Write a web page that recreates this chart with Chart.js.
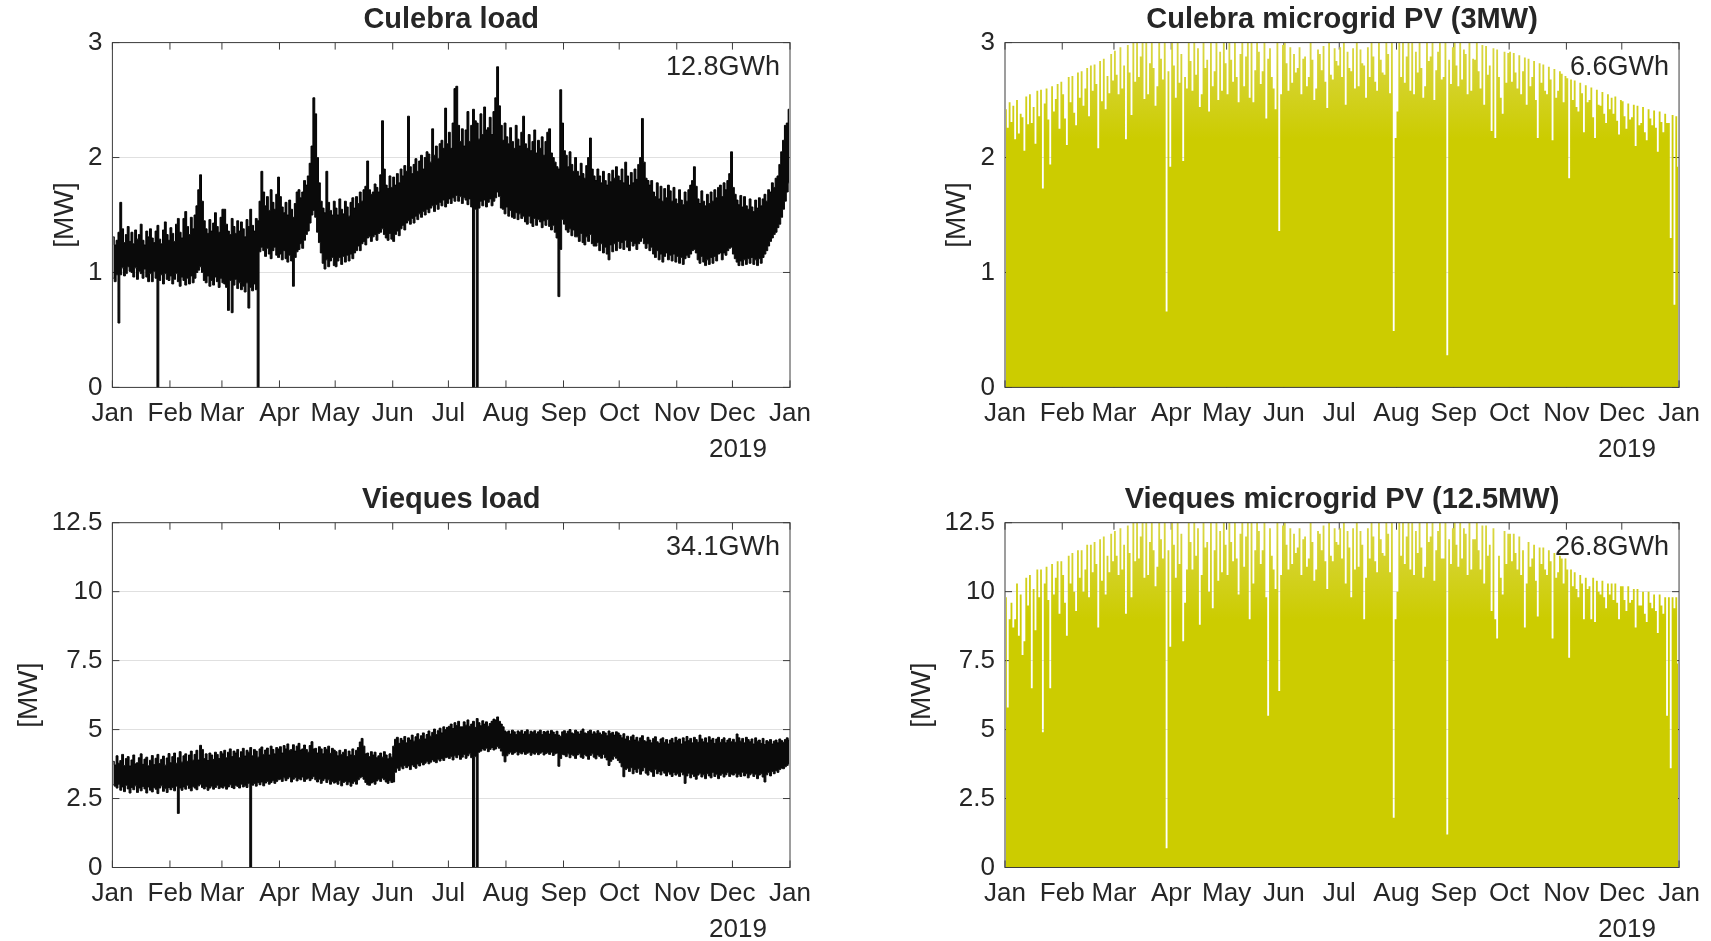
<!DOCTYPE html>
<html>
<head>
<meta charset="utf-8">
<script src="https://cdn.jsdelivr.net/npm/chart.js@4.4.1/dist/chart.umd.min.js"></script>
<style>
  html, body { margin: 0; padding: 0; background: #fff; }
  body { width: 1711px; height: 941px; position: relative; overflow: hidden; }
  canvas { position: absolute; }
</style>
</head>
<body>
<canvas id="load-cul" width="855" height="470" style="left:0;top:0"></canvas>
<canvas id="pv-cul" width="856" height="470" style="left:855px;top:0"></canvas>
<canvas id="load-viq" width="855" height="471" style="left:0;top:470px"></canvas>
<canvas id="pv-viq" width="856" height="471" style="left:855px;top:470px"></canvas>
<script>
// x axis: day of year, ticks at the first day of each month
const MONTH_STARTS = [0, 31, 59, 90, 120, 151, 181, 212, 243, 273, 304, 334, 365];
const MONTH_LABELS = ['Jan', 'Feb', 'Mar', 'Apr', 'May', 'Jun', 'Jul', 'Aug', 'Sep', 'Oct', 'Nov', 'Dec', 'Jan'];
const YEAR_LABEL = '2019';
const Y_TICKS_CUL = [0, 1, 2, 3];
const Y_TICKS_VIQ = [0, 2.5, 5, 7.5, 10, 12.5];

// Culebra load, daily max / min [MW] (10 days per row)
const CUL_LOAD_MAX = [
  1.31,1.24,1.28,1.35,1.61,1.38,1.26,1.33,1.40,1.27,
  1.35,1.25,1.37,1.29,1.33,1.42,1.28,1.24,1.36,1.31,
  1.38,1.30,1.26,1.36,1.41,1.29,1.25,1.37,1.44,1.33,
  1.28,1.39,1.34,1.27,1.42,1.47,1.35,1.30,1.47,1.53,
  1.40,1.33,1.48,1.38,1.50,1.58,1.72,1.85,1.62,1.45,
  1.38,1.34,1.46,1.36,1.43,1.52,1.40,1.35,1.48,1.55,
  1.55,1.42,1.36,1.33,1.47,1.40,1.34,1.45,1.36,1.44,
  1.38,1.31,1.46,1.40,1.55,1.41,1.36,1.47,1.45,1.62,
  1.88,1.70,1.58,1.66,1.54,1.72,1.61,1.55,1.68,1.83,
  1.66,1.57,1.52,1.61,1.50,1.63,1.55,1.48,1.60,1.70,
  1.72,1.65,1.70,1.80,1.76,1.84,1.95,2.10,2.52,2.38,
  2.00,1.78,1.62,1.56,1.52,1.88,1.61,1.54,1.50,1.62,
  1.56,1.50,1.64,1.55,1.51,1.62,1.57,1.49,1.61,1.65,
  1.56,1.66,1.60,1.70,1.62,1.72,1.75,1.97,1.72,1.68,
  1.70,1.77,1.74,1.70,1.85,2.32,1.90,1.76,1.73,1.84,
  1.74,1.83,1.76,1.86,1.78,1.90,1.84,1.93,1.88,2.36,
  1.92,1.86,1.94,1.99,1.88,1.97,2.02,1.90,2.00,2.05,
  2.03,1.96,2.25,2.02,2.10,1.99,2.12,2.15,2.08,2.43,
  2.12,2.22,2.08,2.30,2.60,2.62,2.28,2.14,2.25,2.10,
  2.24,2.40,2.14,2.28,2.42,2.32,2.30,2.16,2.38,2.20,
  2.44,2.24,2.26,2.35,2.20,2.40,2.52,2.79,2.45,2.28,
  2.15,2.30,2.18,2.12,2.26,2.14,2.08,2.28,2.16,2.10,
  2.22,2.36,2.12,2.08,2.20,2.06,2.14,2.24,2.04,2.15,
  2.08,2.18,2.02,2.14,2.22,2.25,2.04,2.00,1.96,1.92,
  1.90,2.59,2.30,2.06,2.02,1.92,2.05,1.94,1.88,2.00,
  1.88,1.84,1.95,1.86,1.82,1.93,2.00,2.17,1.90,1.84,
  1.80,1.90,1.84,1.78,1.88,1.80,1.76,1.86,1.79,1.89,
  1.82,1.92,1.84,1.80,1.90,1.78,1.96,1.84,1.76,1.87,
  1.78,1.90,1.81,1.94,2.00,2.34,1.96,1.82,1.80,1.76,
  1.80,1.70,1.66,1.78,1.64,1.75,1.62,1.73,1.65,1.76,
  1.71,1.62,1.74,1.64,1.60,1.72,1.63,1.59,1.70,1.62,
  1.72,1.76,1.80,1.92,1.75,1.64,1.60,1.71,1.62,1.58,
  1.68,1.60,1.70,1.62,1.72,1.65,1.74,1.76,1.66,1.78,
  1.72,1.80,1.86,2.05,1.74,1.68,1.63,1.59,1.67,1.57,
  1.66,1.58,1.55,1.64,1.57,1.53,1.63,1.56,1.65,1.58,
  1.64,1.68,1.62,1.72,1.70,1.78,1.74,1.82,1.84,1.94,
  2.05,2.15,2.28,2.30,2.42
];
const CUL_LOAD_MIN = [
  0.95,0.92,0.98,0.56,0.98,1.04,0.97,0.99,1.05,1.01,
  1.00,0.96,1.04,0.94,1.01,0.99,0.95,1.03,0.96,0.92,
  0.99,0.92,1.01,0.95,0.00,0.93,0.98,0.90,0.99,0.94,
  0.93,0.97,0.90,0.94,0.99,0.92,0.88,0.96,0.93,0.89,
  0.95,0.90,0.97,0.91,0.95,1.00,1.02,1.05,1.00,0.93,
  0.91,0.97,0.88,0.93,0.89,0.96,0.92,0.87,0.95,0.91,
  0.90,0.87,0.67,0.93,0.65,0.89,0.94,0.86,0.91,0.85,
  0.88,0.83,0.91,0.69,0.87,0.84,0.90,0.85,0.00,1.18,
  1.22,1.19,1.14,1.21,1.16,1.12,1.19,1.22,1.15,1.13,
  1.16,1.11,1.19,1.12,1.09,1.15,1.10,0.88,1.13,1.18,
  1.20,1.25,1.21,1.28,1.33,1.36,1.43,1.50,1.54,1.48,
  1.35,1.26,1.17,1.08,1.03,1.11,1.05,1.10,1.13,1.06,
  1.05,1.10,1.13,1.07,1.14,1.09,1.15,1.10,1.16,1.12,
  1.17,1.19,1.23,1.19,1.25,1.27,1.24,1.30,1.31,1.27,
  1.31,1.33,1.28,1.34,1.35,1.38,1.33,1.30,1.28,1.34,
  1.29,1.27,1.33,1.36,1.32,1.38,1.41,1.37,1.43,1.45,
  1.42,1.47,1.43,1.49,1.46,1.51,1.48,1.53,1.50,1.55,
  1.52,1.56,1.58,1.53,1.59,1.55,1.61,1.58,1.63,1.57,
  1.60,1.64,1.60,1.65,1.62,1.67,1.62,1.66,1.60,1.65,
  1.63,1.59,1.64,1.57,0.00,1.55,0.00,1.56,1.62,1.58,
  1.63,1.57,1.61,1.64,1.58,1.62,1.65,1.70,1.66,1.56,
  1.55,1.51,1.57,1.49,1.54,1.48,1.47,1.52,1.46,1.51,
  1.47,1.49,1.44,1.42,1.49,1.43,1.40,1.47,1.41,1.46,
  1.44,1.39,1.45,1.41,1.46,1.40,1.37,1.41,1.35,1.30,
  0.79,1.20,1.46,1.42,1.37,1.35,1.38,1.32,1.37,1.31,
  1.31,1.27,1.34,1.26,1.24,1.31,1.27,1.33,1.25,1.23,
  1.23,1.26,1.19,1.25,1.17,1.22,1.16,1.11,1.24,1.18,
  1.25,1.19,1.27,1.21,1.26,1.20,1.28,1.22,1.19,1.27,
  1.23,1.25,1.20,1.25,1.27,1.30,1.25,1.21,1.25,1.19,
  1.22,1.16,1.13,1.19,1.11,1.16,1.09,1.14,1.17,1.11,
  1.15,1.10,1.16,1.09,1.14,1.08,1.13,1.07,1.12,1.15,
  1.13,1.16,1.19,1.20,1.17,1.11,1.08,1.14,1.09,1.06,
  1.11,1.07,1.13,1.08,1.14,1.10,1.16,1.17,1.11,1.17,
  1.15,1.19,1.21,1.22,1.16,1.12,1.09,1.06,1.10,1.06,
  1.11,1.07,1.12,1.08,1.13,1.07,1.11,1.06,1.12,1.08,
  1.13,1.16,1.19,1.23,1.27,1.30,1.33,1.35,1.39,1.42,
  1.48,1.55,1.62,1.70,1.78
];

// Culebra PV, daily peak [MW] (one row per month)
const CUL_PV_PEAK = [
  2.42,2.26,2.48,2.31,2.45,2.16,2.50,2.21,2.38,2.35,2.06,2.53,2.29,2.55,2.30,2.44,2.12,2.58,2.36,2.59,1.73,2.47,2.60,2.33,1.94,2.62,2.40,2.51,2.64,2.25,2.66,
  2.55,2.34,2.11,2.70,2.48,2.71,2.39,2.28,2.74,2.52,2.75,2.45,2.60,2.78,2.36,2.80,2.58,2.81,2.64,2.08,2.84,2.49,2.86,2.42,2.71,2.56,2.90,2.67,
  2.93,2.72,2.55,2.96,2.60,2.80,2.16,2.98,2.74,2.37,3.00,2.66,3.00,2.70,2.88,3.00,2.51,3.00,2.55,2.82,3.00,2.78,2.45,2.62,3.00,2.86,2.68,3.00,0.66,2.75,1.92,
  3.00,2.80,2.52,3.00,2.65,2.90,1.97,2.70,2.60,3.00,2.84,2.58,3.00,2.72,2.95,2.44,2.55,3.00,2.78,2.85,2.40,3.00,2.62,2.75,3.00,2.50,2.92,2.58,3.00,2.82,
  2.55,3.00,2.85,2.66,3.00,2.70,2.48,2.90,3.00,2.62,2.88,3.00,2.52,3.00,2.48,2.76,3.00,2.92,2.64,2.75,3.00,2.34,2.86,2.95,2.70,2.60,2.42,3.00,1.36,2.55,2.98,
  3.00,2.82,2.58,2.96,2.65,2.90,2.74,2.78,2.96,2.55,2.86,2.88,2.62,2.70,3.00,2.85,2.50,2.60,2.94,2.90,2.76,2.97,2.66,2.43,3.00,2.72,2.68,2.95,2.84,2.80,
  2.96,2.70,3.00,2.46,2.92,2.78,2.75,2.95,2.60,3.00,2.62,2.94,2.82,2.80,2.52,2.96,2.70,3.00,2.88,2.66,2.58,3.00,2.85,2.74,2.72,3.00,2.90,2.56,3.00,0.49,2.17,
  2.40,3.00,2.70,3.00,2.65,2.88,3.00,2.58,3.00,2.55,2.92,2.74,3.00,2.78,2.52,2.62,3.00,2.84,2.88,3.00,2.50,2.76,2.92,3.00,2.68,2.70,3.00,0.28,2.85,2.64,2.96,
  3.00,2.80,2.62,3.00,2.68,2.94,2.90,2.55,3.00,2.58,2.86,2.85,3.00,2.75,2.60,2.98,2.46,2.97,2.72,2.80,2.23,2.95,2.17,2.94,2.70,2.52,2.38,2.92,2.65,2.91,
  2.92,2.66,2.91,2.74,2.60,2.89,2.55,2.75,2.87,2.46,2.86,2.62,2.70,2.84,2.50,2.17,2.82,2.65,2.81,2.58,2.55,2.79,2.68,2.15,2.77,2.52,2.58,2.75,2.73,2.48,2.71,
  2.69,1.82,2.68,2.50,2.67,2.44,2.40,2.65,2.56,2.22,2.63,2.48,2.50,2.61,2.35,2.17,2.59,2.46,2.45,2.57,2.38,2.30,2.55,2.42,2.52,2.38,2.53,2.32,2.20,2.50,
  2.49,2.36,2.25,2.47,2.33,2.35,2.46,2.10,2.45,2.28,2.30,2.44,2.22,2.15,2.42,2.34,2.28,2.41,2.26,2.05,2.40,2.31,2.22,2.38,2.30,2.30,1.30,2.37,0.72,2.36,1.92
];

// Vieques load, daily max / min [MW] (one row per month)
const VIQ_LOAD_MAX = [
  3.85,3.72,4.05,3.78,3.88,4.10,3.70,3.95,4.02,3.68,3.90,4.08,3.76,3.80,3.98,4.12,3.74,3.93,4.00,3.69,3.89,4.06,3.73,3.96,4.10,3.77,3.92,4.04,3.71,3.97,4.13,
  3.80,4.02,4.15,3.78,3.98,4.20,3.82,4.05,4.12,3.85,4.08,4.22,3.89,4.10,4.25,3.90,4.43,4.28,3.95,4.12,3.88,4.15,4.08,3.92,4.18,4.10,3.95,4.20,
  4.12,4.25,3.98,4.18,4.30,4.02,4.22,4.15,4.28,3.98,4.20,4.32,4.04,4.25,4.18,4.35,4.05,4.28,4.22,4.00,4.30,4.37,4.10,4.26,4.33,4.08,4.40,4.28,4.12,4.35,4.30,
  4.38,4.15,4.42,4.30,4.48,4.25,4.28,4.45,4.22,4.40,4.50,4.26,4.30,4.44,4.28,4.18,4.42,4.56,4.30,4.32,4.15,4.38,4.30,4.12,4.35,4.28,4.40,4.14,4.32,4.26,
  4.20,4.05,4.25,4.10,4.18,4.28,4.02,4.22,4.08,4.30,4.06,4.25,4.35,4.55,4.68,4.40,4.12,4.15,4.02,4.20,4.08,4.18,3.98,4.05,4.15,4.00,4.20,4.08,3.94,4.12,4.00,
  4.40,4.65,4.72,4.50,4.68,4.60,4.75,4.52,4.70,4.62,4.80,4.58,4.74,4.85,4.65,4.78,4.88,4.66,4.82,4.95,4.76,4.90,5.02,4.82,4.96,5.05,4.88,5.10,5.00,5.08,
  5.12,5.20,5.04,5.25,5.15,5.30,5.10,5.10,5.28,5.16,5.35,5.12,5.20,5.30,5.08,5.40,5.25,5.14,5.32,5.20,5.28,5.12,5.22,5.30,5.38,5.35,5.46,5.30,5.20,5.10,4.95,
  4.90,4.95,4.84,4.98,4.92,4.82,4.95,4.90,4.97,4.84,4.93,4.99,4.83,4.94,4.90,4.96,4.85,4.92,4.98,4.82,4.93,4.90,4.95,4.84,4.97,4.91,4.82,4.94,4.80,4.75,4.92,
  4.96,4.86,4.94,5.00,4.88,4.85,4.98,4.92,4.84,4.95,5.02,4.88,4.86,4.94,4.98,4.84,4.92,4.85,4.96,4.88,4.82,4.93,4.88,4.78,4.95,4.86,4.90,4.80,4.92,4.88,
  4.80,4.70,4.85,4.66,4.76,4.60,4.74,4.80,4.62,4.72,4.58,4.70,4.78,4.60,4.56,4.72,4.62,4.52,4.68,4.74,4.56,4.50,4.66,4.70,4.54,4.64,4.48,4.62,4.68,4.52,4.72,
  4.60,4.66,4.48,4.70,4.56,4.75,4.60,4.68,4.52,4.72,4.64,4.54,4.80,4.66,4.56,4.70,4.52,4.74,4.62,4.68,4.50,4.66,4.72,4.54,4.64,4.70,4.52,4.62,4.68,4.56,
  4.65,4.54,4.84,4.70,4.58,4.68,4.52,4.72,4.64,4.56,4.66,4.48,4.70,4.58,4.62,4.50,4.68,4.46,4.60,4.56,4.64,4.48,4.58,4.62,4.52,4.66,4.60,4.54,4.64,4.70,4.62
];
const VIQ_LOAD_MIN = [
  3.00,2.95,2.88,3.02,2.80,2.92,2.75,2.98,2.85,2.70,2.90,2.82,2.96,2.72,2.88,2.78,2.94,2.85,2.70,2.92,2.80,2.74,2.90,2.84,2.68,2.88,2.96,2.76,2.86,2.72,2.90,
  2.82,2.90,2.78,2.95,1.96,2.88,2.80,2.92,2.84,2.98,2.86,2.78,2.94,2.88,2.82,2.96,3.02,2.90,2.85,2.93,2.80,2.88,2.95,2.84,2.90,2.98,2.86,2.92,
  2.88,2.95,2.84,2.92,3.00,2.90,2.86,2.98,2.94,2.88,3.02,2.92,2.96,2.90,3.05,0.00,2.98,3.04,2.95,3.08,3.00,3.10,2.96,3.06,3.12,3.02,3.08,3.15,3.05,3.12,3.18,
  3.20,3.12,3.25,3.15,3.22,3.28,3.10,3.20,3.26,3.14,3.22,3.18,3.28,3.12,3.20,3.24,3.15,3.22,3.30,3.18,3.10,3.20,3.05,3.15,3.22,3.08,3.18,3.02,3.12,3.06,
  3.10,3.02,3.15,2.96,3.08,3.12,3.00,3.10,2.95,3.05,3.12,3.02,3.18,3.25,3.30,3.20,3.08,3.00,2.98,3.06,3.10,3.02,3.14,3.20,3.12,3.24,3.18,3.10,3.05,3.15,3.08,
  3.10,3.45,3.60,3.52,3.65,3.58,3.70,3.62,3.68,3.55,3.72,3.66,3.60,3.75,3.68,3.80,3.72,3.78,3.85,3.76,3.82,3.90,3.84,3.80,3.92,3.86,3.95,3.88,3.98,4.00,
  3.95,4.02,3.90,4.05,3.98,4.08,3.92,4.00,4.10,3.96,4.05,4.12,3.98,0.00,4.02,0.00,4.18,4.22,4.30,4.25,4.32,4.20,4.28,4.35,4.26,4.30,4.38,4.32,4.22,4.05,3.83,
  4.05,4.12,4.18,4.10,4.15,4.20,4.08,4.16,4.12,4.19,4.10,4.14,4.18,4.07,4.15,4.11,4.17,4.09,4.14,4.19,4.08,4.13,4.16,4.10,4.18,4.06,4.12,4.15,3.67,3.95,4.10,
  4.08,4.02,4.12,3.98,4.10,4.05,3.95,4.08,4.12,4.00,3.96,4.10,4.04,3.92,4.06,4.12,4.00,3.94,4.08,4.02,3.96,4.10,3.98,3.90,3.70,3.85,3.92,4.02,3.96,3.88,
  3.80,3.65,3.29,3.55,3.60,3.48,3.62,3.40,3.55,3.45,3.58,3.38,3.50,3.62,3.42,3.35,3.52,3.46,3.30,3.55,3.40,3.48,3.36,3.50,3.42,3.32,3.46,3.38,3.30,3.44,3.35,
  3.40,3.30,3.45,3.36,3.05,3.32,3.42,3.25,3.38,3.30,3.20,3.35,3.42,3.28,3.36,3.22,3.40,3.32,3.25,3.45,3.30,3.38,3.22,3.34,3.40,3.28,3.36,3.44,3.30,3.38,
  3.35,3.42,3.28,3.38,3.30,3.45,3.32,3.40,3.25,3.36,3.42,3.30,3.38,3.22,3.35,3.40,3.28,3.10,3.36,3.44,3.32,3.48,3.40,3.52,3.45,3.55,3.60,3.58,3.65,3.70,3.77
];

// Vieques PV, daily peak [MW] (one row per month)
const VIQ_PV_PEAK = [
  9.8,5.8,9.0,9.6,8.7,9.0,10.3,8.4,9.9,7.7,8.2,10.5,9.5,10.6,6.5,10.1,8.6,10.8,9.8,10.8,4.9,10.3,10.9,9.7,6.5,11.0,9.9,10.5,11.1,9.2,11.1,
  10.6,9.6,8.4,11.3,10.3,11.4,10.0,9.3,11.5,10.5,11.5,10.0,10.8,11.7,9.8,11.7,10.7,11.8,11.0,8.7,11.9,10.4,12.0,9.9,11.3,10.7,12.1,11.1,
  12.2,11.3,10.6,12.3,10.8,11.7,9.2,12.4,11.4,9.8,12.5,11.1,12.5,11.2,12.0,12.5,10.5,12.5,10.6,11.8,12.5,11.5,10.2,10.9,12.5,11.9,11.2,12.5,0.7,11.5,8.0,
  12.5,11.7,10.5,12.5,11.0,12.1,8.2,9.6,10.8,12.5,11.8,10.8,12.5,11.3,12.3,8.8,10.6,12.5,11.6,11.8,10.0,12.5,9.4,11.5,12.5,10.4,12.2,10.7,12.5,11.7,
  10.6,12.5,11.8,11.1,12.5,11.2,9.9,12.1,12.5,10.9,12.0,12.5,9.0,12.5,10.3,11.5,12.5,12.2,11.0,11.5,12.5,9.8,5.5,12.3,11.3,10.8,10.1,12.5,6.4,10.6,12.4,
  12.5,11.7,10.8,12.3,11.0,12.1,11.4,11.6,12.3,10.6,11.9,12.0,10.9,11.2,12.5,11.8,10.4,10.8,12.2,12.1,11.5,12.4,11.1,10.1,12.5,11.3,11.1,12.3,11.8,11.7,
  12.3,11.2,12.5,10.3,12.2,11.6,9.8,12.3,10.8,12.5,10.9,12.2,11.7,9.0,10.5,12.3,11.2,12.5,12.0,11.1,10.7,12.5,11.9,11.4,11.3,12.5,12.1,10.7,12.5,1.8,9.0,
  10.0,12.5,11.3,12.5,11.0,12.0,12.5,10.8,12.5,10.6,12.2,11.4,12.5,11.6,10.5,10.9,12.5,11.8,12.0,12.5,10.4,11.5,12.2,12.5,11.2,11.2,12.5,1.2,11.9,11.0,12.3,
  12.5,11.7,10.9,12.5,11.2,12.3,12.1,10.6,12.5,10.8,11.9,11.9,12.5,11.5,10.8,12.4,10.3,12.4,11.3,11.7,9.3,12.3,9.0,8.3,11.3,10.5,9.9,12.2,11.0,12.1,
  12.1,11.1,12.1,11.4,10.8,12.0,10.6,11.5,8.7,10.3,11.8,10.9,11.2,11.7,10.4,9.1,11.6,11.0,11.6,10.8,10.6,11.5,11.1,8.3,11.4,10.5,10.7,11.3,11.2,10.3,11.2,
  10.8,7.6,10.8,10.2,10.7,10.1,9.8,10.6,10.3,9.0,10.5,10.1,10.2,9.0,10.5,8.9,10.4,10.0,9.9,10.4,9.8,9.4,10.3,9.9,10.3,9.7,10.3,9.6,9.0,10.2,
  10.2,9.7,9.3,10.2,9.6,9.7,10.1,8.7,10.1,9.5,9.5,10.0,9.2,8.9,10.0,9.6,9.4,9.9,9.3,8.5,9.9,9.5,9.2,9.8,5.5,9.8,3.6,9.8,9.4,9.8,7.4
];

const TEXT = '#262626';
const AXIS = '#3c3c3c';
const GRID = '#e0e0e0';
const PV_COLOR = 'rgb(204, 204, 0)';
const PV_LIGHT = 'rgb(218, 215, 70)';
const FONT = '"Liberation Sans", Arial, Helvetica, sans-serif';
const TICK_LEN = 7;

// one point per day, placed at the middle of the day
function daily(values) {
  return values.map((v, i) => ({ x: i + 0.5, y: v }));
}

// box, inward ticks (MATLAB style), title, y label, energy note, year
const decor = {
  id: 'decor',
  beforeDatasetsDraw(chart) {
    const { ctx, chartArea: a, scales: { x, y } } = chart;
    ctx.save();
    ctx.strokeStyle = AXIS;
    ctx.lineWidth = 1;
    ctx.beginPath();
    x.ticks.forEach(t => {
      const px = x.getPixelForValue(t.value);
      ctx.moveTo(px, a.bottom); ctx.lineTo(px, a.bottom - TICK_LEN);
      ctx.moveTo(px, a.top); ctx.lineTo(px, a.top + TICK_LEN);
    });
    y.ticks.forEach(t => {
      const py = y.getPixelForValue(t.value);
      ctx.moveTo(a.left, py); ctx.lineTo(a.left + TICK_LEN, py);
      ctx.moveTo(a.right, py); ctx.lineTo(a.right - TICK_LEN, py);
    });
    ctx.stroke();
    ctx.restore();
  },
  afterDraw(chart, args, opts) {
    const { ctx, chartArea: a } = chart;
    ctx.save();
    ctx.strokeStyle = AXIS;
    ctx.lineWidth = 1;
    ctx.strokeRect(a.left, a.top, a.right - a.left, a.bottom - a.top);

    ctx.fillStyle = TEXT;
    ctx.textBaseline = 'middle';
    ctx.textAlign = 'center';
    ctx.font = 'bold 29px ' + FONT;
    ctx.fillText(opts.title, (a.left + a.right) / 2, a.top - 22.5);

    ctx.font = '27px ' + FONT;
    ctx.textAlign = 'right';
    ctx.fillText(opts.note, a.right - 10, a.top + 25);

    ctx.font = '26px ' + FONT;
    ctx.textAlign = 'center';
    ctx.fillText(YEAR_LABEL, a.right - 52, a.bottom + 62);

    ctx.translate(a.left - opts.ylabelGap, (a.top + a.bottom) / 2);
    ctx.rotate(-Math.PI / 2);
    ctx.font = '28px ' + FONT;
    ctx.fillText('[MW]', 0, 0);
    ctx.restore();
  }
};

function scales(yTicks, leftWidth, bottomHeight) {
  const tickFont = { family: FONT, size: 26 };
  return {
    x: {
      type: 'linear',
      min: 0,
      max: 365,
      afterBuildTicks: s => { s.ticks = MONTH_STARTS.map(v => ({ value: v })); },
      afterFit: s => { s.height = bottomHeight; },
      grid: { display: false, drawTicks: false },
      border: { display: false },
      ticks: {
        autoSkip: false, maxRotation: 0, padding: 11, color: TEXT, font: tickFont,
        callback: (v, i) => MONTH_LABELS[i]
      }
    },
    y: {
      min: yTicks[0],
      max: yTicks[yTicks.length - 1],
      afterBuildTicks: s => { s.ticks = yTicks.map(v => ({ value: v })); },
      afterFit: s => { s.width = leftWidth; },
      grid: { color: GRID, lineWidth: 1, drawTicks: false, tickLength: 0 },
      border: { display: false },
      ticks: { padding: 10, color: TEXT, font: tickFont, callback: v => String(v) }
    }
  };
}

function loadSets(maxVals, minVals) {
  return [
    { data: daily(maxVals), stepped: 'middle', borderColor: '#000', borderWidth: 1,
      backgroundColor: '#0a0a0a', fill: '+1', pointRadius: 0 },
    { data: daily(minVals), stepped: 'middle', borderColor: '#000', borderWidth: 1,
      fill: false, pointRadius: 0 }
  ];
}

// PV fill a little lighter near the top, like the thin daily peaks in the original
function pvFill(context) {
  const a = context.chart.chartArea;
  if (!a) return PV_COLOR;
  const g = context.chart.ctx.createLinearGradient(0, a.bottom, 0, a.top);
  g.addColorStop(0, PV_COLOR);
  g.addColorStop(0.72, PV_COLOR);
  g.addColorStop(1, PV_LIGHT);
  return g;
}

function pvSets(peakVals) {
  return [
    { data: daily(peakVals), stepped: 'middle', borderColor: PV_COLOR, borderWidth: 0,
      backgroundColor: pvFill, fill: 'origin', pointRadius: 0 }
  ];
}

function panel(id, datasets, yTicks, layout, text) {
  new Chart(document.getElementById(id), {
    type: 'line',
    data: { datasets },
    options: {
      responsive: false,
      animation: false,
      devicePixelRatio: 1,
      layout: { padding: { left: 0, right: layout.right, top: layout.top, bottom: 0 } },
      scales: scales(yTicks, layout.left, layout.bottom),
      plugins: {
        legend: { display: false },
        tooltip: { enabled: false },
        decor: text
      }
    },
    plugins: [decor]
  });
}

panel('load-cul', loadSets(CUL_LOAD_MAX, CUL_LOAD_MIN), Y_TICKS_CUL,
  { left: 112.4, right: 65, top: 42.6, bottom: 82.6 },
  { title: 'Culebra load', note: '12.8GWh', ylabelGap: 47 });
panel('pv-cul', pvSets(CUL_PV_PEAK), Y_TICKS_CUL,
  { left: 150, right: 29, top: 42.6, bottom: 82.6 },
  { title: 'Culebra microgrid PV (3MW)', note: '6.6GWh', ylabelGap: 48 });
panel('load-viq', loadSets(VIQ_LOAD_MAX, VIQ_LOAD_MIN), Y_TICKS_VIQ,
  { left: 112.4, right: 65, top: 52.7, bottom: 73.5 },
  { title: 'Vieques load', note: '34.1GWh', ylabelGap: 83 });
panel('pv-viq', pvSets(VIQ_PV_PEAK), Y_TICKS_VIQ,
  { left: 150, right: 29, top: 52.7, bottom: 73.5 },
  { title: 'Vieques microgrid PV (12.5MW)', note: '26.8GWh', ylabelGap: 83 });
</script>
</body>
</html>
